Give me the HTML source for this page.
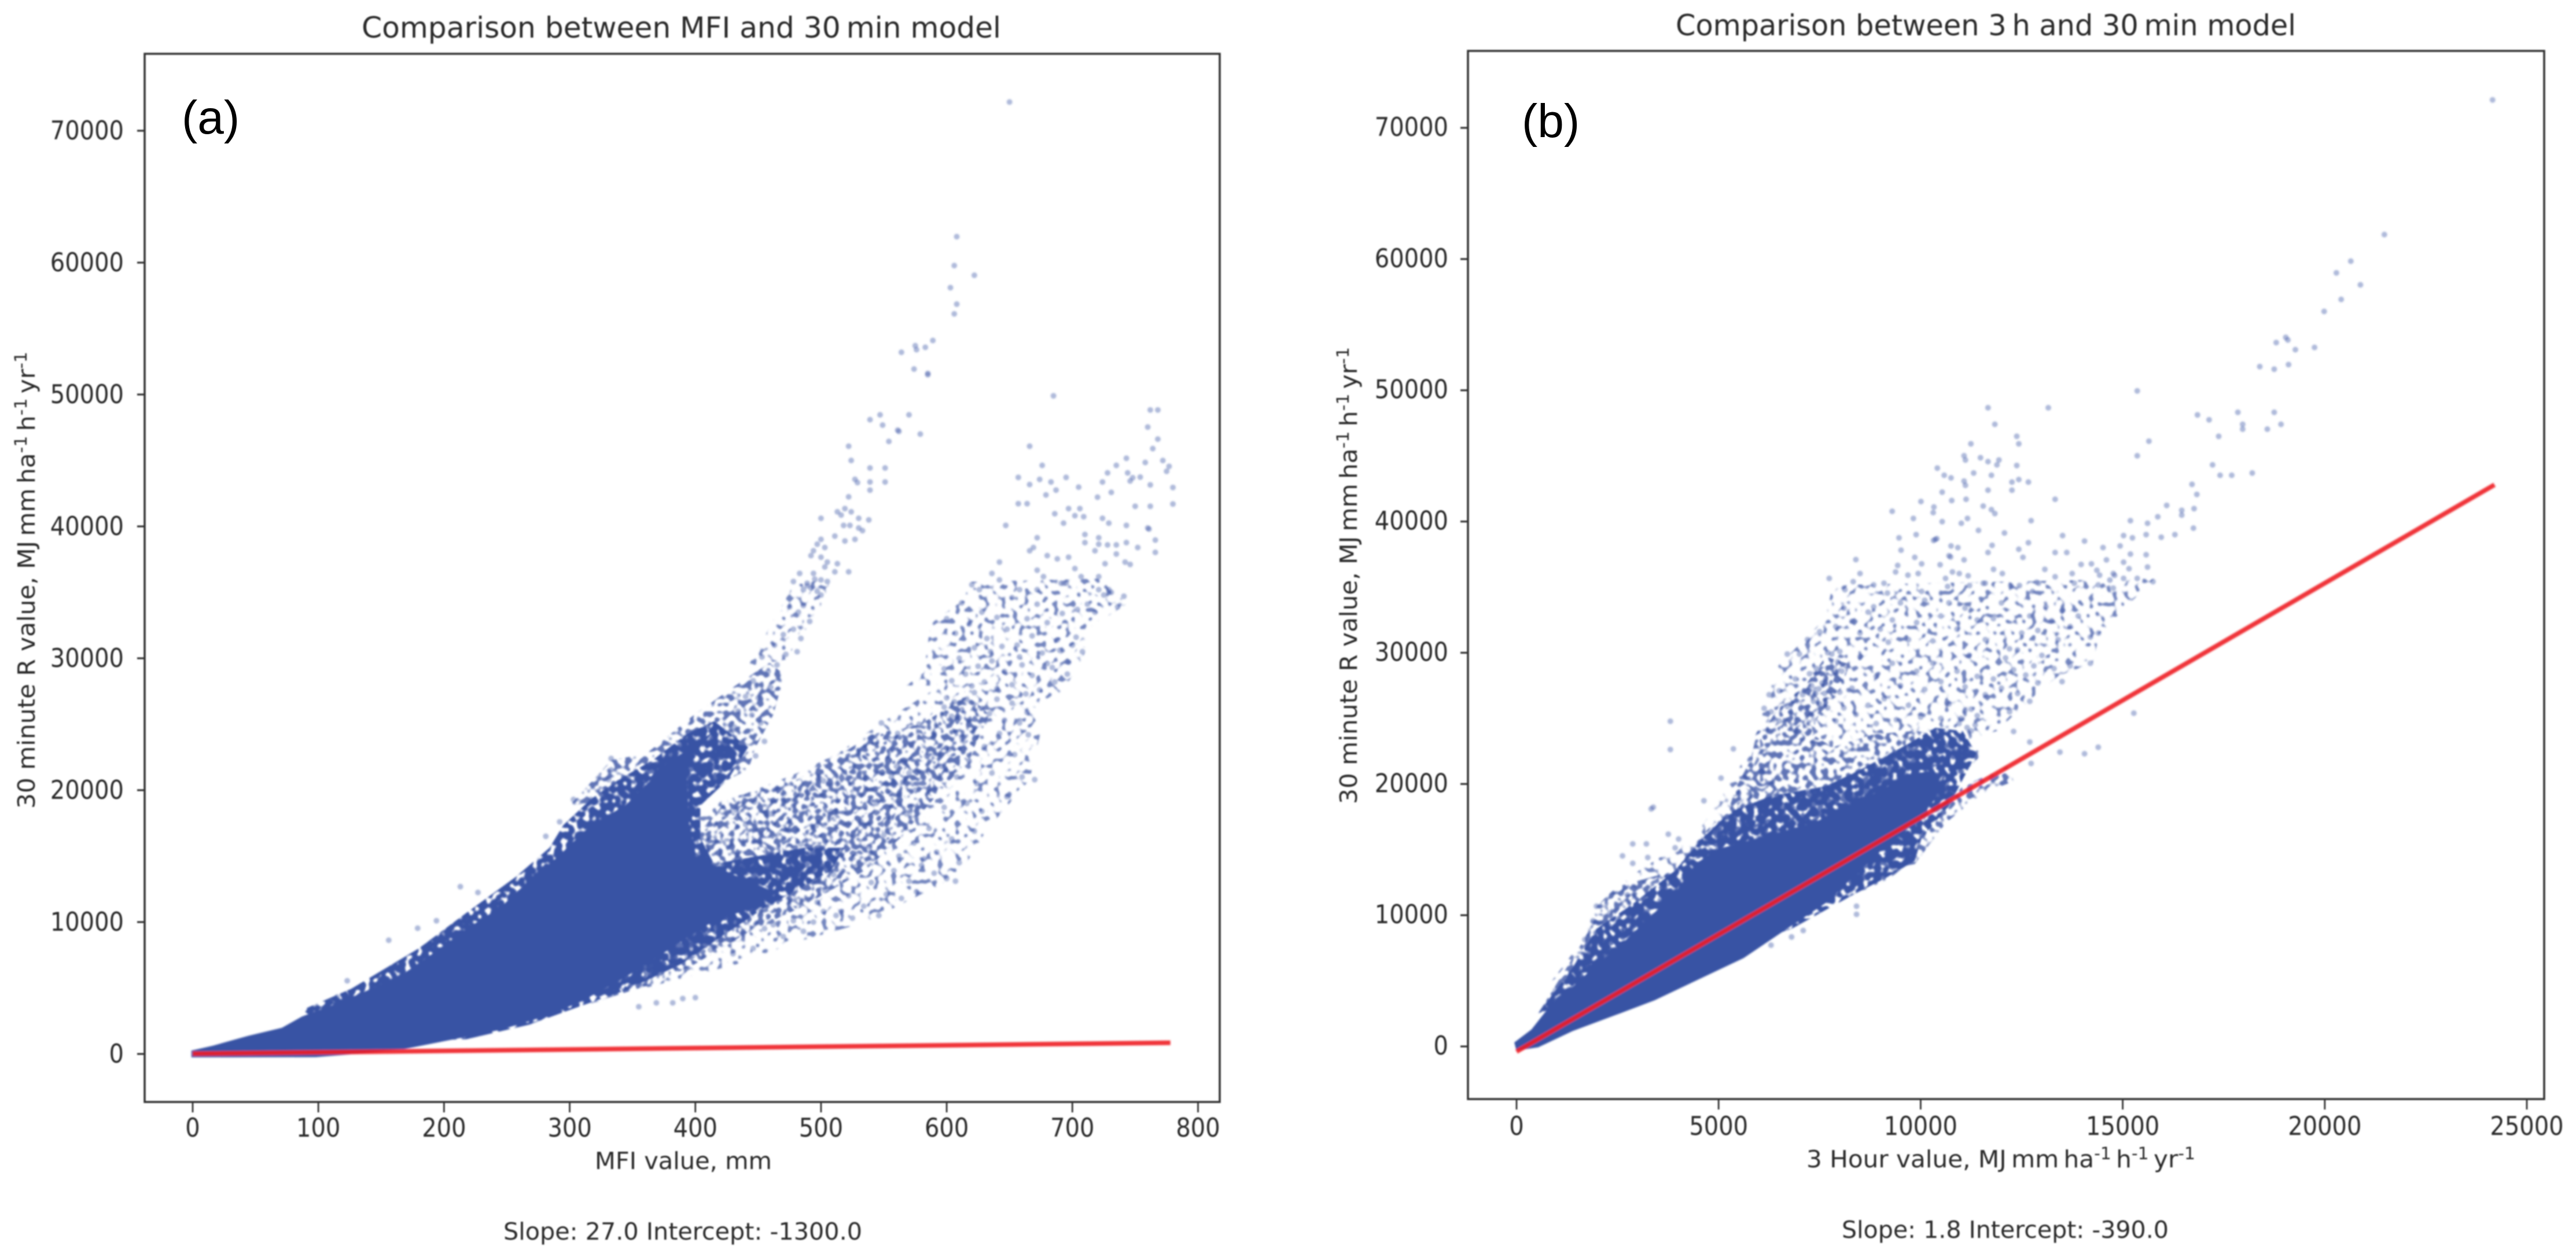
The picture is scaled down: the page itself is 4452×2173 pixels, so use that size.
<!DOCTYPE html>
<html lang="en">
<head>
<meta charset="utf-8">
<title>Comparison of rainfall erosivity models</title>
<style>
html,body{margin:0;padding:0;background:#fff;width:4452px;height:2173px;overflow:hidden}
svg{display:block}
text{font-family:"DejaVu Sans","Liberation Sans",sans-serif;fill:#2b2b2b}
.panel-letter{font-family:"Liberation Sans",sans-serif;font-size:82px;fill:#000}
.base{font-size:41px}
.title{font-size:50px}
</style>
</head>
<body>
<svg id="figure" xmlns="http://www.w3.org/2000/svg" width="4452" height="2173" viewBox="0 0 4452 2173">
<defs>
<filter id="soft" filterUnits="userSpaceOnUse" x="0" y="0" width="4452" height="2173"><feGaussianBlur stdDeviation="1.1"/></filter>
<filter id="softer" filterUnits="userSpaceOnUse" x="0" y="0" width="4452" height="2173"><feGaussianBlur stdDeviation="1.6"/></filter>
<filter id="speckleSparse" filterUnits="userSpaceOnUse" x="0" y="0" width="4452" height="2173" color-interpolation-filters="sRGB">
<feTurbulence type="fractalNoise" baseFrequency="0.1" numOctaves="1" seed="7" result="n"/>
<feColorMatrix in="n" type="matrix" values="0 0 0 0 0 0 0 0 0 0 0 0 0 0 0 0 0 0 9 -5.1" result="m"/>
<feComposite in="SourceGraphic" in2="m" operator="in"/>
</filter>
<filter id="speckleMid" filterUnits="userSpaceOnUse" x="0" y="0" width="4452" height="2173" color-interpolation-filters="sRGB">
<feTurbulence type="fractalNoise" baseFrequency="0.1" numOctaves="1" seed="11" result="n"/>
<feColorMatrix in="n" type="matrix" values="0 0 0 0 0 0 0 0 0 0 0 0 0 0 0 0 0 0 9 -4.3" result="m"/>
<feComposite in="SourceGraphic" in2="m" operator="in"/>
</filter>
<filter id="speckleDense" filterUnits="userSpaceOnUse" x="0" y="0" width="4452" height="2173" color-interpolation-filters="sRGB">
<feTurbulence type="fractalNoise" baseFrequency="0.1" numOctaves="1" seed="23" result="n"/>
<feColorMatrix in="n" type="matrix" values="0 0 0 0 0 0 0 0 0 0 0 0 0 0 0 0 0 0 9 -3.1" result="m"/>
<feComposite in="SourceGraphic" in2="m" operator="in"/>
</filter>
</defs>
<rect width="4452" height="2173" fill="#fff"/>
<g id="panelA">
<g id="marksA" filter="url(#softer)"></g>
<g id="axesA" filter="url(#soft)"></g>
<g filter="url(#soft)">
<text class="title" x="625" y="65" textLength="1105" lengthAdjust="spacingAndGlyphs">Comparison between MFI and 30&#8201;min model</text>
<text class="base" x="1181" y="2021" text-anchor="middle" textLength="306" lengthAdjust="spacingAndGlyphs">MFI value, mm</text>
<text class="base" transform="translate(60,1003) rotate(-90)" text-anchor="middle" textLength="790" lengthAdjust="spacingAndGlyphs">30 minute R value, MJ&#8201;mm&#8201;ha<tspan font-size="29" dy="-14">-1</tspan><tspan dy="14">&#8201;h</tspan><tspan font-size="29" dy="-14">-1</tspan><tspan dy="14">&#8201;yr</tspan><tspan font-size="29" dy="-14">-1</tspan></text>
<text class="base" x="870" y="2143" textLength="620" lengthAdjust="spacingAndGlyphs">Slope: 27.0 Intercept: -1300.0</text>
</g>
<text class="panel-letter" x="314" y="231">(a)</text>
</g>
<g id="panelB">
<g id="marksB" filter="url(#softer)"></g>
<g id="axesB" filter="url(#soft)"></g>
<g filter="url(#soft)">
<text class="title" x="2896" y="61" textLength="1072" lengthAdjust="spacingAndGlyphs">Comparison between 3&#8201;h and 30&#8201;min model</text>
<text class="base" x="3458" y="2018" text-anchor="middle" textLength="672" lengthAdjust="spacingAndGlyphs">3 Hour value, MJ&#8201;mm&#8201;ha<tspan font-size="29" dy="-14">-1</tspan><tspan dy="14">&#8201;h</tspan><tspan font-size="29" dy="-14">-1</tspan><tspan dy="14">&#8201;yr</tspan><tspan font-size="29" dy="-14">-1</tspan></text>
<text class="base" transform="translate(2345,995) rotate(-90)" text-anchor="middle" textLength="790" lengthAdjust="spacingAndGlyphs">30 minute R value, MJ&#8201;mm&#8201;ha<tspan font-size="29" dy="-14">-1</tspan><tspan dy="14">&#8201;h</tspan><tspan font-size="29" dy="-14">-1</tspan><tspan dy="14">&#8201;yr</tspan><tspan font-size="29" dy="-14">-1</tspan></text>
<text class="base" x="3183" y="2140" textLength="565" lengthAdjust="spacingAndGlyphs">Slope: 1.8 Intercept: -390.0</text>
</g>
<text class="panel-letter" x="2630" y="237">(b)</text>
</g>
</svg>
<script>
// ---------- shared tick labels ----------
const yTickValues = [0,10000,20000,30000,40000,50000,60000,70000];
const xTickValuesA = [0,100,200,300,400,500,600,700,800];
const xTickValuesB = [0,5000,10000,15000,20000,25000];

// ---------- panel (a): density outlines as [MFI, R] ----------
const sparseUpperLobeA = [[568,27935],[582,28919],[587,32609],[612,34331],[620,35807],[727,36053],[743,34085],[710,32117],[710,30395],[694,27689],[672,26213],[595,27935]];
const sparseLowerArmA = [[393,18341],[442,19817],[481,21293],[513,22769],[546,24983],[595,27935],[617,27689],[666,26213],[675,24491],[666,20801],[631,16865],[609,13421],[571,11699],[535,9977],[481,8501],[432,6779],[372,5303],[333,4319],[311,3581],[344,7763]];
const sparseUpperArmA = [[442,29411],[462,32855],[478,35561],[508,36053],[500,33962],[486,31871],[472,29903]];
const midUpperArmA = [[300,18833],[333,22277],[361,22769],[399,25721],[432,27935],[459,29657],[472,28673],[467,27443],[462,25721],[448,23261],[442,21539],[426,20801],[393,20063]];
const midLowerArmA = [[399,16373],[426,19325],[481,20801],[508,22277],[541,24245],[579,24983],[617,27197],[634,25721],[617,22277],[585,18833],[563,16373],[535,13913],[486,11207],[442,9239],[399,6779],[366,5303],[333,4319],[317,3827],[344,7763]];
const denseFringeA = [[87,3335],[126,4934],[180,8009],[218,10715],[257,13421],[284,15635],[295,17357],[317,19325],[339,20801],[366,22277],[393,24245],[415,25229],[442,23261],[426,20801],[404,18833],[404,16373],[415,14405],[486,15635],[519,15635],[508,13913],[453,10961],[426,9239],[388,6779],[344,4811],[300,3335],[268,2228],[218,1120],[126,875]];
const solidBodyA = [[-1,-260],[98,-240],[131,14],[169,383],[208,1120],[246,1859],[284,2966],[311,4073],[339,5549],[361,6779],[388,8501],[415,10100],[442,10960],[465,12200],[430,13600],[400,15000],[395,17500],[393,21293],[399,22769],[415,24491],[393,23015],[377,22031],[355,19817],[344,18833],[317,17357],[290,14897],[268,13175],[246,11207],[218,9485],[197,8009],[169,6164],[142,4934],[115,3827],[87,2843],[71,1982],[44,1367],[16,629],[-1,260]];

// ---------- panel (a): individually readable points as [MFI, R] ----------
const upperArmPointsA = [[650,72177],[608,61968],[606,59778],[622,59040],[603,58100],[608,56850],[606,56113],[589,54096],[575,53700],[576,53400],[583,53580],[564,53200],[574,51930],[585,51600],[585,51500],[547,48460],[539,48093],[570,48460],[549,47680],[561,47300],[562,47200],[579,47000],[554,46445],[522,46077],[524,45000],[539,44430],[551,44430],[527,43570],[529,43320],[539,43370],[551,43370],[539,42750],[522,42240],[513,41107],[519,41353],[524,41107],[516,40861],[530,40615],[538,40492],[500,40615],[518,40074],[523,40074],[530,39877],[533,39680],[500,39016],[511,39262],[519,38893],[527,39016],[497,38647],[503,38401],[494,38155],[492,37786],[500,37663],[505,37294],[503,36925],[513,37171],[511,36556],[522,36556],[483,36433],[494,36433],[478,35818],[489,35695],[500,35941],[505,35818],[486,35203],[492,35326],[497,35080],[489,35500],[495,36000],[500,34800],[486,34000],[482,33500],[478,32200],[475,33900],[491,32800],[484,31500],[470,31800],[463,31000],[472,30300],[481,30500],[465,29500],[458,29000],[453,30100],[446,28300],[460,27800],[450,27000],[440,27100],[434,26000],[445,25700],[452,25100],[431,24800],[421,24400],[455,23700],[448,22600],[333,22400],[333,21540],[331,20800],[328,20060],[317,19300],[292,17600],[281,16500],[303,19300]];
const lowerArmTopPointsA = [[685,49900],[762,48830],[768,48830],[760,47530],[768,46617],[764,45900],[666,46077],[676,44625],[657,43715],[674,43567],[666,43174],[683,43370],[695,43715],[687,42755],[679,42386],[705,42977],[743,45166],[735,44625],[728,44059],[724,43370],[744,44059],[748,43690],[746,43444],[754,43739],[758,44846],[772,44994],[777,44551],[775,44182],[762,43148],[780,42952],[731,42583],[720,42214],[657,41722],[664,41722],[750,41525],[762,41525],[780,41697],[697,41353],[706,41353],[686,40960],[702,40812],[709,40738],[724,40615],[729,40246],[693,40246],[647,40074],[743,40074],[760,39877],[761,39800],[672,39139],[710,39385],[710,38770],[721,39139],[721,38647],[728,38598],[735,38598],[743,38770],[766,38967],[752,38401],[766,38032],[718,38155],[735,37909],[669,38401],[666,38155],[680,37786],[688,37540],[697,37663],[702,36802],[726,37171],[742,37294],[746,37120],[642,37294],[672,36679],[636,36433],[642,35941],[677,36187],[691,35695],[693,35695],[695,35695],[707,36187],[721,36187],[620,35573],[626,35203],[658,35203],[672,35203],[729,35203],[721,35203]];
const lowerArmMidPointsA = [[600,33000],[607,31900],[612,34200],[618,32600],[622,30800],[628,33500],[632,31500],[636,29800],[640,33100],[644,30900],[648,32200],[652,34600],[656,31000],[660,29500],[664,33000],[668,31700],[672,34100],[676,30400],[680,32700],[684,29300],[688,31400],[692,33400],[696,28800],[700,31000],[704,33700],[708,30500],[712,34100],[718,33500],[725,34800],[736,33900],[741,34700],[731,35000],[598,29200],[604,28300],[610,30000],[615,28800],[620,27900],[625,29400],[630,28200],[635,30500],[640,27700],[646,29000],[652,28000],[658,30100],[663,27300],[668,28700],[674,27600],[680,29600],[686,28200],[690,30600],[697,29700],[703,31600],[600,27000],[606,26700],[610,26600],[604,25600],[610,25500],[612,26100],[616,26900],[598,26300],[622,27400],[628,26200],[634,25800],[640,26900],[646,25300],[652,26600],[658,25100],[664,25900],[540,24000],[548,25100],[555,23000],[561,24300],[566,22100],[572,23400],[578,25000],[584,22600],[590,24300],[596,21800],[602,23100],[608,21000],[612,24000],[618,22200],[624,20500],[630,23300],[636,21300],[642,24300],[648,19500],[654,22700],[660,21000],[665,24200],[670,20800],[556,21000],[560,21800],[565,20600],[570,21300],[575,20000],[555,19800],[562,19000]];
const lowerArmBasePointsA = [[432,18500],[440,17400],[447,19100],[452,16700],[460,18200],[466,20000],[472,17000],[478,18800],[484,15900],[490,19800],[496,17300],[502,20700],[508,18400],[514,16100],[520,19200],[526,21400],[532,17600],[538,15700],[544,19000],[550,16600],[556,17900],[562,15000],[568,18200],[574,16000],[580,14300],[586,17100],[592,15300],[598,18700],[604,16300],[610,14500],[616,19000],[622,16900],[628,18400],[490,13200],[497,11500],[503,12400],[510,13600],[516,10800],[522,12000],[528,14200],[534,11200],[540,13000],[546,10500],[552,12100],[558,13900],[564,11800],[570,13100],[576,12300],[582,14800],[590,13700],[600,13300],[607,13100],[345,6500],[352,5500],[360,7500],[366,6200],[374,6900],[380,8000],[388,7000],[396,7900],[404,9000],[412,7900],[420,8600],[430,7600],[438,9100],[446,8000],[455,9500],[462,9800],[470,8900],[478,10100],[486,9300],[494,10000],[502,10800],[512,10500],[525,10300],[355,3581],[369,3877],[382,3877],[390,4200],[400,4273],[213,12683],[156,8624],[123,5549],[179,9534],[194,10100],[227,12240],[115,4319]];
const fitLineXA = [0,778];
const fitLineYA = [20,850];

// ---------- panel (b): density outlines as [3-hour value, R] ----------
const sparseUpperLobeB = [[5958,24036],[6127,25766],[6466,28980],[7652,32688],[7821,35160],[15783,35654],[14428,31452],[14258,29227],[13411,28238],[12734,26508],[11887,24036],[11040,23294],[9854,24036],[8838,23788],[7821,22800]];
const sparseLeftHaloB = [[876,5001],[1723,8462],[2400,12170],[3925,15136],[4603,16867],[5450,20822],[5958,24036],[6805,18350],[3925,10934]];
const midLobeB = [[5619,19833],[5958,23294],[6466,25766],[7144,27496],[7652,29721],[8245,29103],[7991,27002],[7482,25272],[7144,22800],[6805,20328]];
const midBodyB = [[537,2529],[1638,7967],[1977,10687],[2485,12170],[3925,13406],[4603,16125],[5280,18350],[5450,19833],[5788,21811],[5958,24036],[6805,24777],[7821,22800],[8838,23788],[9854,24036],[10532,23788],[11040,23294],[11548,22305],[10701,19833],[10701,17361],[9854,13900],[9007,13406],[7991,11923],[3925,8462]];
const midLowerFringeB = [[11040,19833],[12141,21316],[12310,20204],[11548,19338],[10701,17238],[9685,13900],[9176,12665],[8329,11552],[10000,16000]];
const denseFringeB = [[537,2529],[1384,5990],[1977,8956],[2909,10934],[3925,13406],[4603,15878],[5280,17856],[6297,19092],[7652,19833],[8499,21069],[9685,23047],[10362,24283],[11040,24036],[11379,22305],[11040,20328],[10701,18350],[10024,15878],[9854,14148],[9176,12912],[8329,11552],[6805,8957],[3925,5990]];
const solidBodyB = [[-5,-314],[537,-68],[1384,1170],[2570,2529],[3417,3518],[4433,5001],[5619,6732],[6805,9203],[7652,10933],[8329,12911],[9007,14889],[9685,16620],[10362,18844],[10500,20000],[10300,21000],[9854,20800],[9176,19800],[8329,18400],[7313,17000],[6127,16000],[4941,15000],[4433,13901],[3925,11676],[3247,9698],[2570,7721],[1892,5990],[1384,4507],[876,3271],[368,1293],[-56,305]];

// ---------- panel (b): individually readable points as [3-hour value, R] ----------
const topPointsB = [[24152,72127],[21475,61868],[20645,59841],[20288,58951],[20882,58037],[20407,56924],[19984,56010],[19035,54032],[19086,53834],[18798,53636],[19272,53093],[19747,53265],[18392,51807],[18749,51610],[19103,51956],[15360,49953],[11667,48668],[13158,48668],[11836,47407],[16850,48125],[17138,47753],[17850,48322],[18749,48322],[17968,47407],[17968,47037],[18917,47407],[18578,47037],[17375,46492],[15648,46122],[15360,45009],[17223,44317],[17410,43526],[17697,43526],[18206,43699],[16715,42834],[16834,42067],[12378,46492],[12429,45924],[11243,45924],[11074,45009],[11108,44688],[11480,44861],[11667,44565],[11938,44688],[11887,44317],[12378,44268],[10413,44071],[10583,43526],[10752,43328],[11311,43699],[11751,43526],[11074,43081],[11108,42760],[12260,43006],[12429,43200],[12666,43006],[11667,42390],[12260,42390],[10532,42240],[13327,41697],[10007,41524],[10769,41598],[11124,41697],[11548,41177],[11751,40905],[11836,40608],[10328,41103],[10311,40683],[9295,40781],[9820,40238],[10532,39991],[11158,40238],[11006,39868],[12734,40066],[15190,40066],[15614,39868],[15868,40362],[16088,41227],[16461,40856],[16461,40486],[16766,40980],[16749,39497],[16291,39002],[15953,38805],[15580,39002],[15241,38755],[15021,38928]];
const midPointsB = [[11430,39323],[12073,39126],[9888,39002],[9464,38755],[10362,38631],[10400,38700],[10320,38560],[13513,38928],[14055,38508],[12666,38385],[14513,38014],[14936,38137],[10752,38137],[10921,38014],[11768,38187],[9515,37815],[12429,37889],[11667,37642],[13327,37642],[13615,37642],[15190,37518],[15580,37469],[10701,37395],[10740,37300],[9854,37272],[8397,37100],[11074,37074],[12531,37272],[14597,37074],[15021,36901],[14225,36778],[13970,36728],[9431,36654],[10024,36778],[10481,36704],[15614,36530],[11802,36357],[13073,36357],[15156,36407],[14360,36283],[9380,36159],[9939,36036],[10786,36159],[12022,36036],[13750,36036],[8499,36036],[9685,35912],[10955,36036],[7737,35665],[13327,35789],[14428,35912],[14767,36036],[14800,35900],[10616,35665],[11175,35863],[8330,35418],[8838,35171],[9092,35294],[11548,35294],[11600,35294],[12226,35121],[12446,35121],[12869,35369],[12920,35300],[15749,35418],[15360,35665],[15021,35665],[14682,35541],[13801,35294],[14394,35171],[14767,34924],[11209,35121],[10024,34676],[8126,34800],[9176,34552],[10667,35047],[12768,34676]];
const lobePointsB = [[7300,27500],[7400,26900],[7482,27250],[7560,27700],[7620,26900],[7350,26300],[7500,26100],[7650,28000],[7250,28400],[7420,28800],[7700,25800],[7150,25800],[7080,26800],[7800,29900],[7950,29300],[8050,28600],[8150,29000],[7880,28500],[7700,30000],[8000,30100],[11000,25000],[11100,25600],[11250,25700],[11400,25200],[11350,24500],[11150,24300],[10950,24600],[11250,24050],[7900,32000],[8100,33400],[8300,32400],[8500,31500],[8700,33100],[8838,33500],[9000,31800],[9200,30800],[9300,32500],[9500,33800],[9700,31000],[9900,32300],[10100,34000],[10300,30900],[10500,32800],[10700,33800],[10900,31800],[11100,33400],[11200,29800],[11400,32500],[11600,31000],[11800,32600],[12000,33800],[12200,30300],[12395,30216],[12500,31500],[12700,32800],[12900,31700],[13100,33500],[13242,32440],[13400,31000],[13500,33200],[13700,32000],[13900,32800],[14200,31200],[14400,31500],[13000,29800],[12800,29000],[12600,28300],[12900,27700],[12300,28700],[12100,29600],[13300,28800],[13700,29000],[14200,29200],[13500,27800],[12700,26300],[12400,26900],[12200,25500],[12000,27300],[11800,28000],[11600,26800],[11400,28200],[11100,27400],[10900,28600],[10700,26100],[10500,27800],[10300,29200],[10100,27200],[9900,28600],[9700,26000],[9500,27500],[9300,29200],[9100,26500],[8900,28200],[8700,26000],[8500,29700],[8300,27300],[8100,25800],[8000,27000],[7900,24800],[8400,25300],[8900,24600],[9400,24900],[10000,25100],[10500,25000],[6500,24800],[6700,25900],[6500,27100],[6300,25500],[6900,28000],[7000,29900],[7200,31000],[7500,31600],[6700,29900],[6250,26800],[12300,24000],[12700,23200]];
const fringePointsB = [[15275,25395],[14394,22800],[14055,22305],[13446,22429],[12734,21564],[3806,24777],[3806,22627],[3383,18226],[4637,18720],[5365,22676],[5060,20451],[6127,25766],[3332,18103],[2875,15433],[3213,15433],[2621,14518],[2875,13950],[3756,16175],[4010,15804],[3925,15136],[3248,14395],[1977,10687],[1892,9575],[1689,8140],[961,4259],[1130,4259],[8414,10686],[8414,10069],[7093,8833],[6805,8338],[6297,7720],[2739,11552],[2316,10192]];
const fitLineXB = [0,24200];
const fitLineYB = [-390,42800];

// ---------- helpers ----------
const NS = 'http://www.w3.org/2000/svg';
const BLUE = '#3953a4';

function linearScale(domainA, domainB, rangeA, rangeB) {
  return function (v) { return rangeA + (v - domainA) * (rangeB - rangeA) / (domainB - domainA); };
}
function svgEl(parent, tag, attrs) {
  const el = document.createElementNS(NS, tag);
  for (const k in attrs) el.setAttribute(k, attrs[k]);
  parent.appendChild(el);
  return el;
}
function drawRegion(parent, pts, sx, sy, name) {
  const d = pts.map(function (p) { return sx(p[0]).toFixed(1) + ',' + sy(p[1]).toFixed(1); }).join(' ');
  const el = svgEl(parent, 'polygon', { points: d, fill: BLUE });
  
  
}
function drawPoints(parent, pts, sx, sy) {
  pts.forEach(function (p) {
    const el = svgEl(parent, 'circle', { cx: sx(p[0]).toFixed(1), cy: sy(p[1]).toFixed(1), r: 5, fill: BLUE, 'fill-opacity': 0.4 });
    
    
  });
}
function drawFit(parent, xs, ys, sx, sy) {
  const el = svgEl(parent, 'line', { x1: sx(xs[0]), y1: sy(ys[0]), x2: sx(xs[1]), y2: sy(ys[1]), stroke: '#ee1c25', 'stroke-opacity': 0.9, 'stroke-width': 8 });
  
  
}
function densityLayer(parent, filterId, layerOpacity, name) {
  const g = svgEl(parent, 'g', { filter: 'url(#' + filterId + ')', opacity: layerOpacity });
  
  
  return g;
}
function drawAxes(parent, box, xTicks, yTicks, sx, sy, xBase, yBase, yLabelRight) {
  const frame = svgEl(parent, 'rect', { x: box.left, y: box.top, width: box.right - box.left, height: box.bottom - box.top, fill: 'none', stroke: '#333', 'stroke-width': 3.5 });
  
  
  xTicks.forEach(function (t) {
    const mark = svgEl(parent, 'line', { x1: sx(t), x2: sx(t), y1: box.bottom, y2: box.bottom + 18, stroke: '#333', 'stroke-width': 2.8 });
    
    
    const lab = svgEl(parent, 'text', { x: 0, y: 0, 'text-anchor': 'middle', 'font-size': 40, transform: 'translate(' + sx(t).toFixed(1) + ' ' + xBase + ') scale(1 1.12)' });
    
    
    lab.textContent = String(t);
  });
  yTicks.forEach(function (t) {
    const mark = svgEl(parent, 'line', { x1: box.left - 13, x2: box.left, y1: sy(t), y2: sy(t), stroke: '#333', 'stroke-width': 3.2 });
    
    
    const lab = svgEl(parent, 'text', { x: 0, y: 0, 'text-anchor': 'end', 'font-size': 40, transform: 'translate(' + yLabelRight + ' ' + (sy(t) + yBase).toFixed(1) + ') scale(1 1.12)' });
    
    
    lab.textContent = String(t);
  });
}

// ---------- panel (a) ----------
const boxA = { left: 250, right: 2108, top: 93, bottom: 1905 };
const xA = linearScale(0, 800, 333, 2070.5);
const yA = linearScale(0, 70000, 1822, 226);
const marksA = document.getElementById('marksA');
const sparseA = densityLayer(marksA, 'speckleSparse', 0.7, 'panel-a-sparse-density');
drawRegion(sparseA, sparseUpperLobeA, xA, yA, 'lower-arm-upper-lobe');
drawRegion(sparseA, sparseLowerArmA, xA, yA, 'lower-arm-outer-envelope');
drawRegion(sparseA, sparseUpperArmA, xA, yA, 'upper-arm-top');
const midA = densityLayer(marksA, 'speckleMid', 0.8, 'panel-a-mid-density');
drawRegion(midA, midUpperArmA, xA, yA, 'upper-arm-body');
drawRegion(midA, midLowerArmA, xA, yA, 'lower-arm-body');
const denseA = densityLayer(marksA, 'speckleDense', 1, 'panel-a-high-density');
drawRegion(denseA, denseFringeA, xA, yA, 'dense-fringe');
drawRegion(marksA, solidBodyA, xA, yA, 'solid-point-mass');
drawPoints(marksA, upperArmPointsA, xA, yA);
drawPoints(marksA, lowerArmTopPointsA, xA, yA);
drawPoints(marksA, lowerArmMidPointsA, xA, yA);
drawPoints(marksA, lowerArmBasePointsA, xA, yA);
drawFit(marksA, fitLineXA, fitLineYA, xA, yA);
drawAxes(document.getElementById('axesA'), boxA, xTickValuesA, yTickValues, xA, yA, 1965, 15, 214);

// ---------- panel (b) ----------
const boxB = { left: 2537, right: 4397, top: 88, bottom: 1900 };
const xB = linearScale(0, 25000, 2621, 4367);
const yB = linearScale(0, 70000, 1809, 221);
const marksB = document.getElementById('marksB');
const sparseB = densityLayer(marksB, 'speckleSparse', 0.7, 'panel-b-sparse-density');
drawRegion(sparseB, sparseUpperLobeB, xB, yB, 'upper-sparse-lobe');
drawRegion(sparseB, sparseLeftHaloB, xB, yB, 'left-sparse-halo');
const midB = densityLayer(marksB, 'speckleMid', 0.8, 'panel-b-mid-density');
drawRegion(midB, midLobeB, xB, yB, 'left-lobe-band');
drawRegion(midB, midBodyB, xB, yB, 'mottled-body');
drawRegion(midB, midLowerFringeB, xB, yB, 'lower-fringe');
const denseB = densityLayer(marksB, 'speckleDense', 1, 'panel-b-high-density');
drawRegion(denseB, denseFringeB, xB, yB, 'dense-fringe');
drawRegion(marksB, solidBodyB, xB, yB, 'solid-point-mass');
drawPoints(marksB, topPointsB, xB, yB);
drawPoints(marksB, midPointsB, xB, yB);
drawPoints(marksB, lobePointsB, xB, yB);
drawPoints(marksB, fringePointsB, xB, yB);
drawFit(marksB, fitLineXB, fitLineYB, xB, yB);
drawAxes(document.getElementById('axesB'), boxB, xTickValuesB, yTickValues, xB, yB, 1962, 14, 2503);
</script>
</body>
</html>
